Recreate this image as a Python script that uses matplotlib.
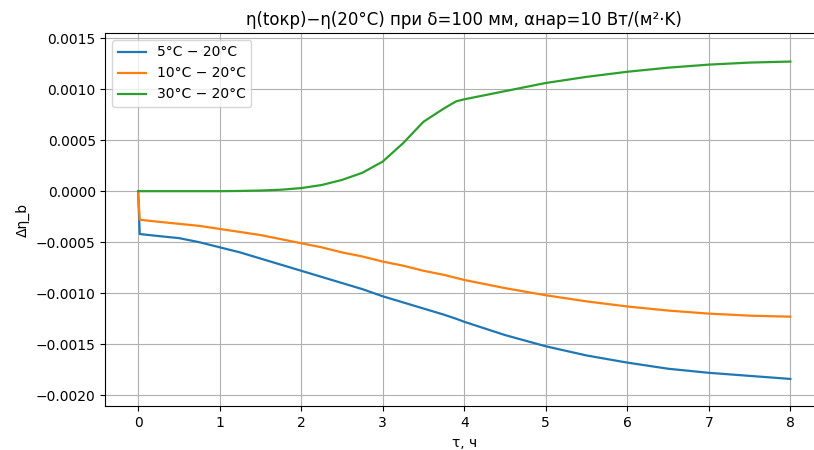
import matplotlib
matplotlib.use("Agg")
from matplotlib import pyplot as plt

# time, hours
tau = [0.0, 0.02, 0.25, 0.5, 0.75, 1.0, 1.25, 1.5, 1.75, 2.0, 2.25, 2.5, 2.75, 3.0,
       3.25, 3.5, 3.75, 3.9, 4.0, 4.5, 5.0, 5.5, 6.0, 6.5, 7.0, 7.5, 8.0]

d5 = [0.0, -0.00042, -0.00044, -0.00046, -0.00050, -0.00055, -0.00060, -0.00066,
      -0.00072, -0.00078, -0.00084, -0.00090, -0.00096, -0.00103, -0.00109,
      -0.00115, -0.00121, -0.00125, -0.00128, -0.00141, -0.00152, -0.00161,
      -0.00168, -0.00174, -0.00178, -0.00181, -0.00184]

d10 = [0.0, -0.00028, -0.00030, -0.00032, -0.00034, -0.00037, -0.00040, -0.00043,
       -0.00047, -0.00051, -0.00055, -0.00060, -0.00064, -0.00069, -0.00073,
       -0.00078, -0.00082, -0.00085, -0.00087, -0.00095, -0.00102, -0.00108,
       -0.00113, -0.00117, -0.00120, -0.00122, -0.00123]

d30 = [0.0, 0.0, 0.0, 0.0, 0.0, 0.0, 0.000002, 0.000006, 0.000014, 0.00003,
       0.00006, 0.00011, 0.00018, 0.00029, 0.00047, 0.00068, 0.00081, 0.00088,
       0.00090, 0.00098, 0.00106, 0.00112, 0.00117, 0.00121, 0.00124, 0.00126,
       0.00127]

labels = ["5°C − 20°C", "10°C − 20°C", "30°C − 20°C"]

fig, ax = plt.subplots(figsize=(8.14, 4.5), dpi=100)
for ys, lab in zip([d5, d10, d30], labels):
    ax.plot(tau, ys, label=lab, linewidth=1.6)

ax.set_title("η(tокр)−η(20°C) при δ=100 мм, αнар=10 Вт/(м²·K)")
ax.set_xlabel("τ, ч")
ax.set_ylabel("Δη_b")
ax.set_xticks(range(0, 9))
ax.set_yticks([-0.002, -0.0015, -0.001, -0.0005, 0.0, 0.0005, 0.001, 0.0015])
ax.set_xlim(-0.4, 8.4)
ax.set_ylim(-0.00211, 0.00155)
ax.grid(True)
ax.legend(loc="upper left")
ax.spines["right"].set_visible(False)  # cut off in the original screenshot

# original figure was cropped on the right, so the axes runs past the edge
plt.subplots_adjust(left=0.1296, right=1.011, top=0.9267, bottom=0.0967)
fig.savefig("out.png", dpi=100)
